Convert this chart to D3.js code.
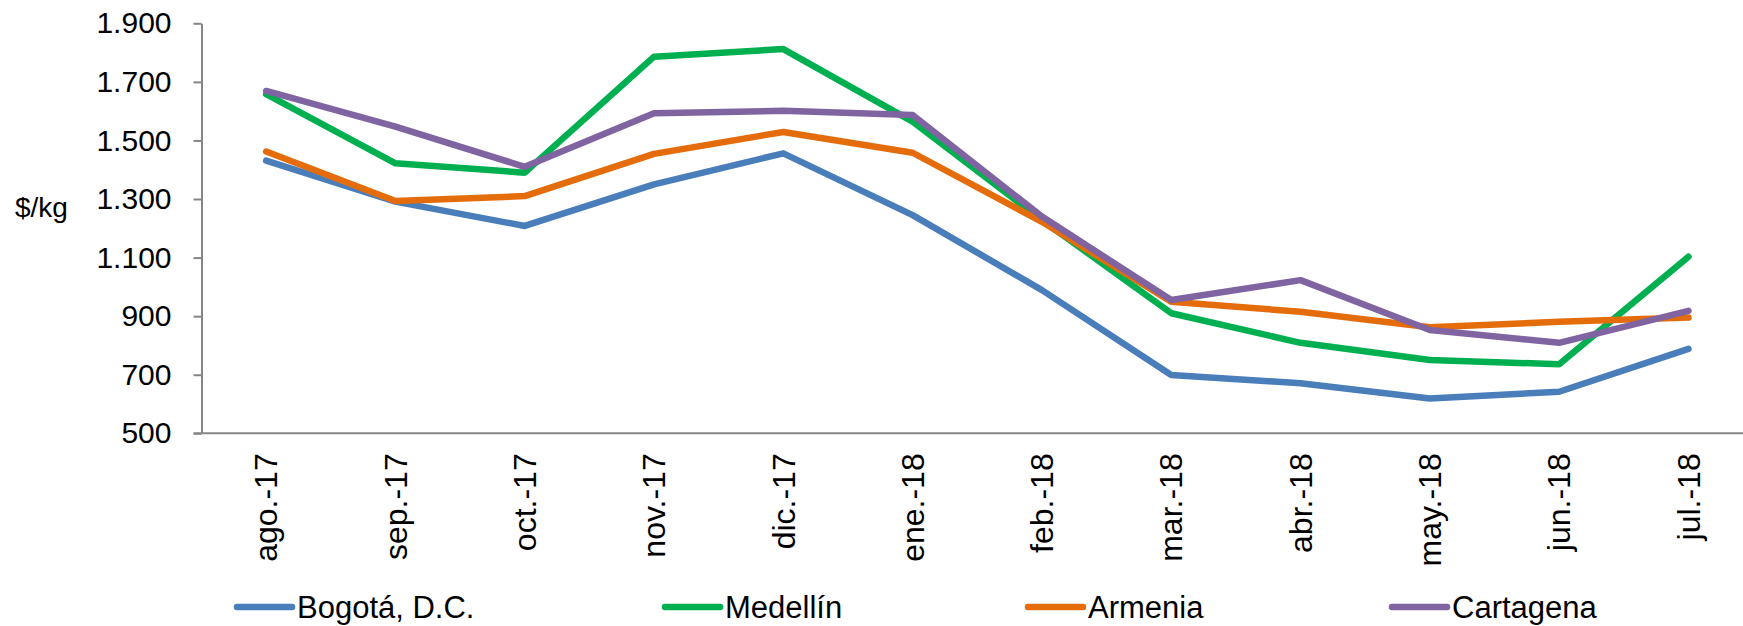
<!DOCTYPE html>
<html>
<head>
<meta charset="utf-8">
<script src="https://cdn.jsdelivr.net/npm/d3@7"></script>
<style>
  html, body { margin: 0; padding: 0; background: #fff; }
  svg { display: block; font-family: "Liberation Sans", Arial, sans-serif; }
</style>
</head>
<body>
<svg id="chart" width="1743" height="626"></svg>
<script>
const categories = ["ago.-17","sep.-17","oct.-17","nov.-17","dic.-17","ene.-18","feb.-18","mar.-18","abr.-18","may.-18","jun.-18","jul.-18"];
const seriesNames = ["Bogotá, D.C.","Medellín","Armenia","Cartagena"];
const bogota    = [1431,1291,1208,1350,1456,1245,989,699,671,619,642,788];
const medellin  = [1658,1422,1390,1786,1812,1564,1228,910,809,750,736,1103];
const armenia   = [1462,1293,1310,1454,1529,1458,1222,949,915,862,881,895];
const cartagena = [1669,1547,1410,1593,1601,1587,1240,955,1023,853,809,918];
const yTicks = [500,700,900,1100,1300,1500,1700,1900];
const yLabel = "$/kg";
const colors = ["#4A7EBB","#00B050","#E46C0A","#8064A2"];

const seriesValues = [bogota, medellin, armenia, cartagena];

const svg = d3.select("#chart");
const plotLeft = 201.5, plotTop = 23.3, plotBottom = 433.3;
const step = 129.3;
const plotRight = plotLeft + step * categories.length;

const x = d3.scaleBand().domain(categories).range([plotLeft, plotRight]).padding(0);
const y = d3.scaleLinear().domain([500, 1900]).range([plotBottom, plotTop]);

const loc = d3.formatLocale({decimal: ",", thousands: ".", grouping: [3], currency: ["$", ""]});
const fmt = loc.format(",d");

// Y axis
const yAxis = svg.append("g")
  .attr("transform", `translate(${plotLeft},0)`)
  .call(d3.axisLeft(y).tickValues(yTicks).tickFormat(fmt).tickSize(8).tickPadding(22).tickSizeOuter(0));
yAxis.select(".domain").attr("stroke", "#868686").attr("stroke-width", 2);
yAxis.selectAll(".tick line").attr("stroke", "#868686").attr("stroke-width", 2);
yAxis.selectAll(".tick text").attr("fill", "#000").style("font-size", "30px").style("font-family", "Liberation Sans, Arial, sans-serif");

// X axis
const xAxis = svg.append("g")
  .attr("transform", `translate(0,${plotBottom})`)
  .call(d3.axisBottom(x).tickSize(0).tickSizeOuter(0).tickPadding(0));
xAxis.select(".domain").attr("stroke", "#868686").attr("stroke-width", 2)
  .attr("d", `M${plotLeft - 8},0H${plotRight}`);
xAxis.selectAll(".tick text")
  .attr("fill", "#000")
  .style("font-size", "32px")
  .style("font-family", "Liberation Sans, Arial, sans-serif")
  .attr("text-anchor", "end")
  .attr("transform", "rotate(-90)")
  .attr("x", -20)
  .attr("y", 0)
  .attr("dy", "0.35em");

// Y label
svg.append("text")
  .attr("x", 15).attr("y", 207)
  .attr("dy", "0.35em")
  .style("font-size", "28px")
  .text(yLabel);

// Lines
const line = d3.line()
  .x((d, i) => x(categories[i]) + x.bandwidth() / 2)
  .y(d => y(d));

seriesValues.forEach((vals, k) => {
  svg.append("path")
    .datum(vals)
    .attr("fill", "none")
    .attr("stroke", colors[k])
    .attr("stroke-width", 6.5)
    .attr("stroke-linejoin", "round")
    .attr("stroke-linecap", "round")
    .attr("d", line);
});

// Legend
const legendX = [237, 665, 1028, 1392];
const legendY = 607;
seriesNames.forEach((name, k) => {
  const g = svg.append("g").attr("transform", `translate(${legendX[k]},${legendY})`);
  g.append("line")
    .attr("x1", 0).attr("x2", 55).attr("y1", 0).attr("y2", 0)
    .attr("stroke", colors[k]).attr("stroke-width", 6.5).attr("stroke-linecap", "round");
  g.append("text")
    .attr("x", 60).attr("y", 0).attr("dy", "0.36em")
    .style("font-size", "31px")
    .text(name);
});
</script>
</body>
</html>
